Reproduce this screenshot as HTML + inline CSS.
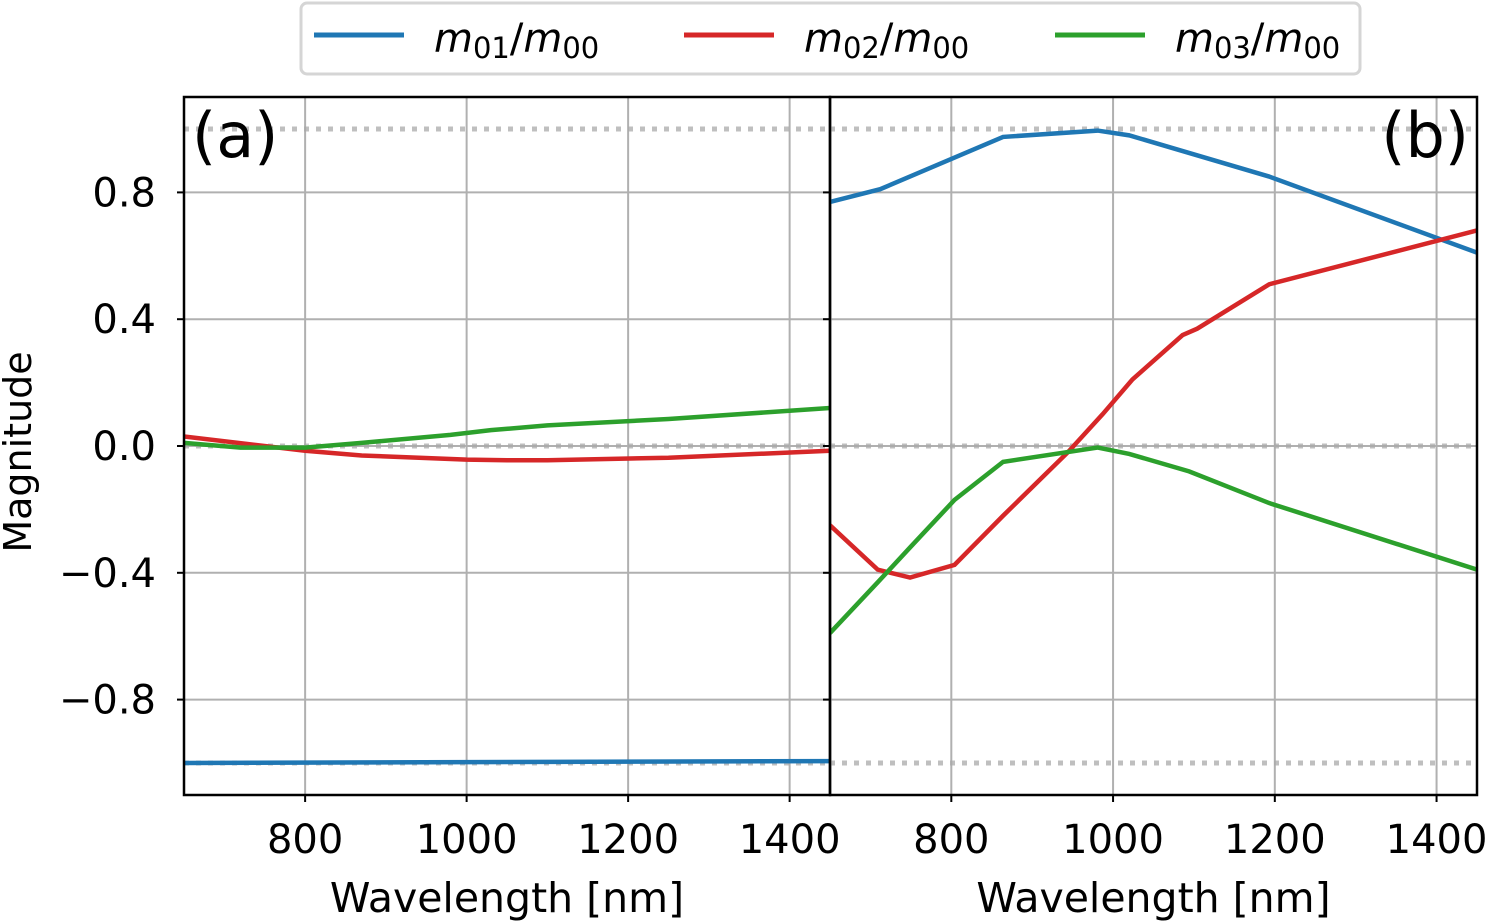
<!DOCTYPE html>
<html><head><meta charset="utf-8"><style>
html,body{margin:0;padding:0;background:#fff}
svg{display:block;font-family:"DejaVu Sans","Liberation Sans",sans-serif}
</style></head><body>
<svg id="c" width="1487" height="921" viewBox="0 0 1487 921"></svg>
<script>
const xTicks=[800,1000,1200,1400];
const yTicks=[0.8,0.4,0.0,-0.4,-0.8];
const yTickLabels=["0.8","0.4","0.0","\u22120.4","\u22120.8"];
const aBlueX=[650,1450];
const aBlueY=[-1.0,-0.994];
const aRedX=[650,800,870,1000,1050,1100,1250,1450];
const aRedY=[0.03,-0.015,-0.03,-0.043,-0.045,-0.045,-0.037,-0.015];
const aGreenX=[650,720,800,870,980,1030,1100,1250,1450];
const aGreenY=[0.01,-0.005,-0.005,0.01,0.035,0.05,0.065,0.085,0.12];
const bBlueX=[650,712,864,981,1020,1193,1450];
const bBlueY=[0.77,0.81,0.975,0.995,0.98,0.85,0.61];
const bRedX=[650,709,749,804,864,944,987,1024,1086,1104,1193,1450];
const bRedY=[-0.25,-0.39,-0.415,-0.375,-0.22,-0.02,0.1,0.21,0.35,0.37,0.51,0.68];
const bGreenX=[650,709,749,804,864,981,1020,1094,1193,1450];
const bGreenY=[-0.59,-0.43,-0.32,-0.17,-0.05,-0.005,-0.025,-0.08,-0.18,-0.39];
const C={blue:"#1f77b4",red:"#d62728",green:"#2ca02c"};
const svg=document.getElementById('c');const NS="http://www.w3.org/2000/svg";
function mk(t,a,p){const e=document.createElementNS(NS,t);for(const k in a)e.setAttribute(k,a[k]);(p||svg).appendChild(e);return e;}
const T=97,B=795;
function yS(v){return 446-v*317;}
function panel(L,R,name,label,labelRight,series,showY){
  const g=mk('g',{});
  
  
  const xS=v=>L+(v-650)/800*(R-L);
  xTicks.forEach(t=>{const l=mk('line',{x1:xS(t),x2:xS(t),y1:T,y2:B,stroke:'#b0b0b0','stroke-width':2},g);
    
    mk('line',{x1:xS(t),x2:xS(t),y1:B,y2:B+7,stroke:'#000','stroke-width':2},g);
    const tx=mk('text',{x:xS(t),y:B+58,'font-size':40,'text-anchor':'middle'},g);tx.textContent=t;
    });
  yTicks.forEach((t,i)=>{const l=mk('line',{x1:L,x2:R,y1:yS(t),y2:yS(t),stroke:'#b0b0b0','stroke-width':2},g);
    
    mk('line',{x1:L-7,x2:L,y1:yS(t),y2:yS(t),stroke:'#000','stroke-width':2},g);
    if(showY){const tx=mk('text',{x:L-28,y:yS(t)+14,'font-size':40,'text-anchor':'end'},g);tx.textContent=yTickLabels[i];
    }});
  [1,0,-1].forEach(v=>{const l=mk('line',{x1:L,x2:R,y1:yS(v),y2:yS(v),stroke:'#aaa','stroke-width':5,'stroke-dasharray':'5 7','opacity':0.75},g);
    });
  const cp='clip'+name;const cl=mk('clipPath',{id:cp},g);mk('rect',{x:L,y:T,width:R-L,height:B-T},cl);
  series.forEach(s=>{const p=mk('polyline',{points:s.x.map((v,i)=>xS(v)+','+yS(s.y[i])).join(' '),fill:'none',stroke:s.c,'stroke-width':4.5,'clip-path':'url(#'+cp+')'},g);
    });
  mk('rect',{x:L,y:T,width:R-L,height:B-T,fill:'none',stroke:'#000','stroke-width':2.5},g);
  const pl=mk('text',{x:labelRight?R-8:L+8,y:157,'font-size':62,'text-anchor':labelRight?'end':'start'},g);pl.textContent=label;
  
  const xl=mk('text',{x:(L+R)/2,y:912,'font-size':41,'text-anchor':'middle'},g);xl.textContent='Wavelength [nm]';
  
}
panel(184,830,'panel-a','(a)',false,[{x:aBlueX,y:aBlueY,c:C.blue,n:'line-m01'},{x:aRedX,y:aRedY,c:C.red,n:'line-m02'},{x:aGreenX,y:aGreenY,c:C.green,n:'line-m03'}],true);
panel(830,1477,'panel-b','(b)',true,[{x:bBlueX,y:bBlueY,c:C.blue,n:'line-m01'},{x:bRedX,y:bRedY,c:C.red,n:'line-m02'},{x:bGreenX,y:bGreenY,c:C.green,n:'line-m03'}],false);
const yl=mk('text',{x:0,y:0,'font-size':38,'text-anchor':'middle',transform:'translate(31,452) rotate(-90)'});yl.textContent='Magnitude';

const lg=mk('g',{});


mk('rect',{x:301,y:3,width:1059,height:71,rx:6,fill:'#fff',stroke:'#d5d5d5','stroke-width':3},lg);
[[C.blue,'01',314],[C.red,'02',684],[C.green,'03',1055]].forEach(([c,s,x])=>{
  const e=mk('g',{},lg);
  mk('line',{x1:x,x2:x+90,y1:35,y2:35,stroke:c,'stroke-width':5},e);
  const t=mk('text',{x:x+120,y:52,'font-size':40},e);
  t.innerHTML='<tspan font-style="italic">m</tspan><tspan font-size="29" dy="6">'+s+'</tspan><tspan dy="-6">/</tspan><tspan font-style="italic">m</tspan><tspan font-size="29" dy="6">00</tspan>';
});
</script>
</body></html>
